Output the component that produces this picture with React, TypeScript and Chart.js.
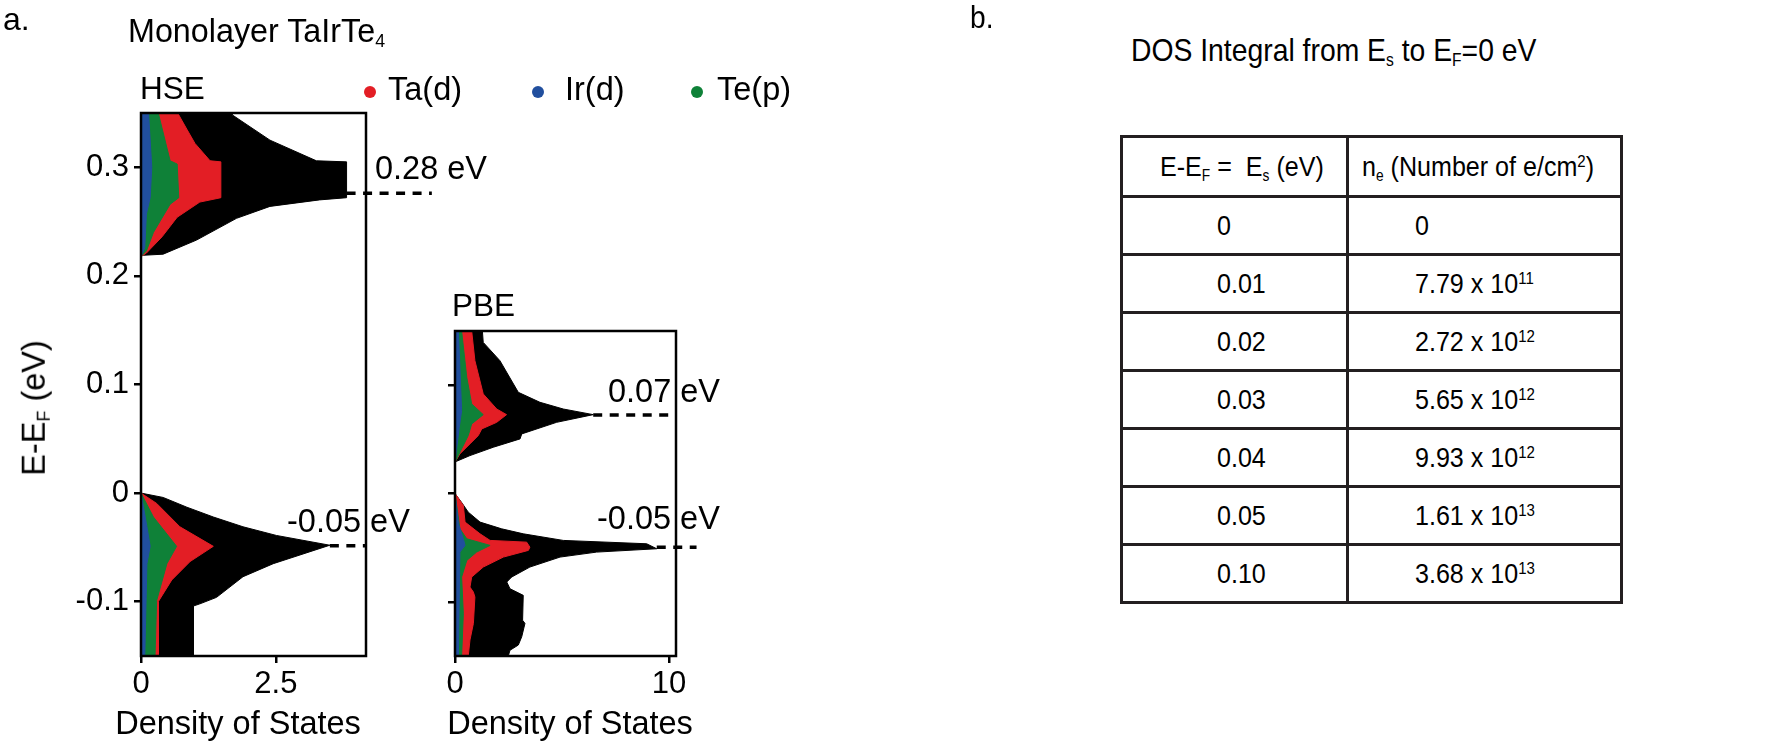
import React, { useEffect, useRef } from 'react';
import { Chart, registerables } from 'chart.js';

Chart.register(...registerables);

// ---------- DATA: [energy (eV), density of states] ----------
// HSE, conduction band
const hseCondTotal: [number, number][] = [[0.218, 0], [0.219, 0.04], [0.220, 0.41], [0.233, 1.03], [0.253, 1.77], [0.264, 2.39], [0.270, 3.31], [0.272, 3.81], [0.305, 3.81], [0.306, 3.25], [0.325, 2.39], [0.348, 1.70], [0.35, 1.68]];
const hseCondTa: [number, number][] = [[0.218, 0], [0.221, 0.10], [0.236, 0.39], [0.254, 0.67], [0.268, 1.09], [0.272, 1.48], [0.305, 1.48], [0.306, 1.28], [0.322, 1.00], [0.335, 0.85], [0.35, 0.68]];
const hseCondTe: [number, number][] = [[0.218, 0], [0.223, 0.10], [0.240, 0.23], [0.266, 0.54], [0.272, 0.70], [0.303, 0.67], [0.306, 0.54], [0.35, 0.32]];
const hseCondIr: [number, number][] = [[0.218, 0], [0.226, 0.07], [0.257, 0.10], [0.272, 0.17], [0.300, 0.20], [0.35, 0.14]];
// HSE, valence band
const hseValTotal: [number, number][] = [[0, 0], [-0.004, 0.41], [-0.013, 0.85], [-0.022, 1.34], [-0.031, 1.89], [-0.039, 2.51], [-0.048, 3.50], [-0.065, 2.45], [-0.077, 1.89], [-0.096, 1.40], [-0.102, 1.09], [-0.104, 0.97], [-0.15, 0.97]];
const hseValTa: [number, number][] = [[0, 0], [-0.0095, 0.29], [-0.031, 0.72], [-0.049, 1.34], [-0.063, 0.91], [-0.080, 0.57], [-0.100, 0.32], [-0.15, 0.32]];
const hseValTe: [number, number][] = [[0, 0], [-0.022, 0.23], [-0.049, 0.66], [-0.065, 0.48], [-0.099, 0.29], [-0.15, 0.26]];
const hseValIr: [number, number][] = [[0, 0], [-0.031, 0.11], [-0.049, 0.17], [-0.065, 0.11], [-0.15, 0.07]];
// PBE, conduction band
const pbeCondTotal: [number, number][] = [[0.029, 0], [0.0298, 0.08], [0.035, 0.70], [0.0427, 1.79], [0.0504, 3.04], [0.055, 3.12], [0.0657, 4.75], [0.0728, 6.46], [0.078, 5.06], [0.0842, 3.97], [0.0934, 2.96], [0.1226, 2.10], [0.1395, 1.32], [0.15, 1.28]];
const pbeCondTa: [number, number][] = [[0.029, 0], [0.0366, 0.23], [0.0458, 0.70], [0.0535, 1.09], [0.0596, 1.25], [0.0657, 1.95], [0.0728, 2.41], [0.078, 1.95], [0.0919, 1.32], [0.1226, 0.93], [0.15, 0.78]];
const pbeCondTe: [number, number][] = [[0.029, 0], [0.0412, 0.31], [0.0535, 0.62], [0.0642, 0.78], [0.0728, 1.32], [0.0827, 0.78], [0.1072, 0.55], [0.15, 0.31]];
const pbeCondIr: [number, number][] = [[0.029, 0], [0.0611, 0.20], [0.0765, 0.31], [0.15, 0.16]];
// PBE, valence band
const pbeValTotal: [number, number][] = [[0, 0], [-0.008, 0.30], [-0.0172, 0.62], [-0.0264, 1.17], [-0.0326, 2.18], [-0.0372, 3.19], [-0.0433, 5.06], [-0.0464, 8.96], [-0.051, 9.43], [-0.0541, 6.62], [-0.0587, 4.91], [-0.0679, 3.50], [-0.0771, 2.65], [-0.0817, 2.42], [-0.0879, 2.57], [-0.094, 3.19], [-0.117, 3.16], [-0.1199, 3.27], [-0.1322, 3.12], [-0.1399, 2.96], [-0.1447, 2.57], [-0.15, 2.49]];
const pbeValTa: [number, number][] = [[0, 0], [-0.011, 0.39], [-0.0264, 0.47], [-0.0372, 1.17], [-0.0433, 1.64], [-0.0449, 3.35], [-0.0495, 3.50], [-0.0525, 3.43], [-0.0587, 2.26], [-0.0679, 1.32], [-0.0771, 0.78], [-0.0864, 0.70], [-0.091, 0.86], [-0.0956, 0.93], [-0.1199, 0.86], [-0.1352, 0.70], [-0.15, 0.62]];
const pbeValTe: [number, number][] = [[0, 0], [-0.0326, 0.23], [-0.0418, 0.55], [-0.0479, 1.64], [-0.0541, 1.01], [-0.0618, 0.55], [-0.0771, 0.31], [-0.1109, 0.39], [-0.15, 0.31]];
const pbeValIr: [number, number][] = [[0, 0], [-0.028, 0.16], [-0.0418, 0.39], [-0.0479, 0.47], [-0.0541, 0.23], [-0.15, 0.16]];

// Peak markers: energy, DOS at peak, DOS where the dashed line ends
const hseMarkerE = [0.276, -0.0485];
const hseMarkerFrom = [3.81, 3.5];
const hseMarkerTo = [5.39, 4.17];
const pbeMarkerE = [0.0725, -0.0495];
const pbeMarkerFrom = [6.46, 9.43];
const pbeMarkerTo = [10.3, 11.29];
const hseMarkerLabels = ['0.28 eV', '-0.05 eV'];
const pbeMarkerLabels = ['0.07 eV', '-0.05 eV'];

// Axes
const hseXTicks = [0, 2.5];
const pbeXTicks = [0, 10];
const hseYTicks = [-0.1, 0, 0.1, 0.2, 0.3];
const pbeYTicks = [-0.1, 0, 0.1];

// Table
const tableEs = ['0', '0.01', '0.02', '0.03', '0.04', '0.05', '0.10'];
const tableMant = ['0', '7.79', '2.72', '5.65', '9.93', '1.61', '3.68'];
const tableExp = ['', '11', '12', '12', '12', '13', '13'];

// ---------- STYLE ----------
const RED = '#E31E25';
const GREEN = '#0F8138';
const BLUE = '#214F9E';
const BLACK = '#000000';
const SANS = "'Liberation Sans', Arial, Helvetica, sans-serif";
const NARROW_X = 0.88;

Chart.defaults.font.family = SANS;

function series(points: [number, number][], color: string, order: number) {
  return {
    data: points.map(([e, d]) => ({ x: d, y: e })),
    borderColor: color,
    backgroundColor: color,
    borderWidth: 1,
    fill: 'origin',
    pointRadius: 0,
    tension: 0,
    order,
  };
}

const frameMarkers = {
  id: 'frameMarkers',
  afterDatasetsDraw(chart: any, _args: any, opts: any) {
    const { ctx, chartArea: a, scales } = chart;
    ctx.save();
    ctx.strokeStyle = '#000';
    ctx.lineWidth = 2.5;
    ctx.strokeRect(a.left, a.top, a.right - a.left, a.bottom - a.top);
    ctx.setLineDash([9, 7.5]);
    ctx.lineWidth = 3.5;
    const es: number[] = opts.e || [];
    es.forEach((e, i) => {
      const y = scales.y.getPixelForValue(e);
      ctx.beginPath();
      ctx.moveTo(scales.x.getPixelForValue(opts.from[i]), y);
      ctx.lineTo(scales.x.getPixelForValue(opts.to[i]), y);
      ctx.stroke();
    });
    ctx.restore();
  },
};

function makeConfig(p: {
  sets: any[]; xMax: number; yMin: number; yMax: number; xTicks: number[]; yTicks: number[];
  yLabels: boolean; padLeft: number; axisWidth: number; padTop: number; padRight: number;
  markers: { e: number[]; from: number[]; to: number[] };
}) {
  const grid = { display: true, drawOnChartArea: false, drawTicks: true, tickLength: 7, color: '#000', lineWidth: 2.5 };
  return {
    type: 'line',
    data: { datasets: p.sets },
    plugins: [frameMarkers],
    options: {
      animation: false,
      responsive: false,
      maintainAspectRatio: false,
      indexAxis: 'y',
      layout: { padding: { left: p.padLeft, right: p.padRight, top: p.padTop, bottom: 43 } },
      plugins: {
        legend: { display: false },
        tooltip: { enabled: false },
        frameMarkers: p.markers,
      },
      scales: {
        x: {
          type: 'linear', min: 0, max: p.xMax,
          afterBuildTicks: (s: any) => { s.ticks = p.xTicks.map((v) => ({ value: v })); },
          afterFit: (s: any) => { s.height = 50; },
          ticks: { color: '#000', font: { size: 31 }, padding: 3, maxRotation: 0, autoSkip: false, callback: (v: any) => String(v) },
          grid, border: { display: false },
        },
        y: {
          type: 'linear', min: p.yMin, max: p.yMax,
          afterBuildTicks: (s: any) => { s.ticks = p.yTicks.map((v) => ({ value: v })); },
          afterFit: (s: any) => { s.width = p.axisWidth; },
          ticks: { display: p.yLabels, color: '#000', font: { size: 31 }, padding: 5, autoSkip: false, callback: (v: any) => String(v) },
          grid, border: { display: false },
        },
      },
    },
  };
}

function DosCanvas({ config }: { config: any }) {
  const ref = useRef<HTMLCanvasElement | null>(null);
  useEffect(() => {
    if (!ref.current) return;
    const c = new Chart(ref.current, config);
    return () => c.destroy();
  }, [config]);
  return <canvas ref={ref} width={1000} height={749} style={{ position: 'absolute', left: 0, top: 0, width: 1000, height: 749 }} />;
}

const hseConfig = makeConfig({
  sets: [
    series(hseCondIr, BLUE, 1), series(hseValIr, BLUE, 1),
    series(hseCondTe, GREEN, 2), series(hseValTe, GREEN, 2),
    series(hseCondTa, RED, 3), series(hseValTa, RED, 3),
    series(hseCondTotal, BLACK, 4), series(hseValTotal, BLACK, 4),
  ],
  xMax: 4.17, yMin: -0.15, yMax: 0.35, xTicks: hseXTicks, yTicks: hseYTicks, yLabels: true,
  padLeft: 0, axisWidth: 141, padTop: 113, padRight: 1000 - 366,
  markers: { e: hseMarkerE, from: hseMarkerFrom, to: hseMarkerTo },
});

const pbeConfig = makeConfig({
  sets: [
    series(pbeCondIr, BLUE, 1), series(pbeValIr, BLUE, 1),
    series(pbeCondTe, GREEN, 2), series(pbeValTe, GREEN, 2),
    series(pbeCondTa, RED, 3), series(pbeValTa, RED, 3),
    series(pbeCondTotal, BLACK, 4), series(pbeValTotal, BLACK, 4),
  ],
  xMax: 10.33, yMin: -0.15, yMax: 0.15, xTicks: pbeXTicks, yTicks: pbeYTicks, yLabels: false,
  padLeft: 400, axisWidth: 55, padTop: 331, padRight: 1000 - 676,
  markers: { e: pbeMarkerE, from: pbeMarkerFrom, to: pbeMarkerTo },
});

// text helper: positioned by baseline
function T({ x, base, size = 32.5, children, center = false, sx = 1 }: any) {
  const tf = center ? 'translateX(-50%)' : sx !== 1 ? `scaleX(${sx})` : undefined;
  return (
    <div style={{
      position: 'absolute', left: x, top: base - 0.8465 * size, fontSize: size, lineHeight: `${size}px`,
      fontFamily: SANS, color: '#000', whiteSpace: 'pre', transform: tf, transformOrigin: 'left top',
    }}>{children}</div>
  );
}

const sub = (t: string) => <span style={{ fontSize: '0.55em', verticalAlign: '-0.3em', lineHeight: 0 }}>{t}</span>;
const sup = (t: string) => <span style={{ fontSize: '0.6em', verticalAlign: '0.55em', lineHeight: 0 }}>{t}</span>;
const narrow = (c: any) => (
  <span style={{ display: 'inline-block', transform: `scaleX(${NARROW_X})`, transformOrigin: 'left center', whiteSpace: 'pre' }}>{c}</span>
);

function Dot({ x, y, color }: any) {
  return <div style={{ position: 'absolute', left: x - 6, top: y - 6, width: 12, height: 12, borderRadius: 6, background: color }} />;
}

const cellBorder = '3.5px solid #231F20';

export default function App() {
  return (
    <div style={{ position: 'relative', width: 1773, height: 749, background: '#fff', overflow: 'hidden' }}>
      <style>{'body{margin:0;background:#fff;}'}</style>
      <DosCanvas config={hseConfig} />
      <DosCanvas config={pbeConfig} />

      <T x={3} base={30} size={32}>a.</T>
      <T x={128} base={42} size={32.3}>Monolayer TaIrTe{sub('4')}</T>
      <T x={140} base={100} size={31.5}>HSE</T>
      <T x={452} base={317} size={31.5}>PBE</T>

      <Dot x={370} y={92} color={RED} />
      <T x={388} base={101}>Ta(d)</T>
      <Dot x={538} y={92} color={BLUE} />
      <T x={565} base={101}>Ir(d)</T>
      <Dot x={697} y={92} color={GREEN} />
      <T x={717} base={101}>Te(p)</T>

      <div style={{
        position: 'absolute', left: 34, top: 408, transform: 'translate(-50%, -50%) rotate(-90deg)',
        fontFamily: SANS, fontSize: 32.5, lineHeight: '32.5px', whiteSpace: 'pre', color: '#000',
      }}>E-E{sub('F')} (eV)</div>

      <T x={375} base={180}>{hseMarkerLabels[0]}</T>
      <T x={287} base={533}>{hseMarkerLabels[1]}</T>
      <T x={608} base={403}>{pbeMarkerLabels[0]}</T>
      <T x={597} base={530}>{pbeMarkerLabels[1]}</T>

      <T x={238} base={735} center>Density of States</T>
      <T x={570} base={735} center>Density of States</T>

      <T x={970} base={28} size={32} sx={NARROW_X}>b.</T>
      <T x={1131} base={61} size={32.2} sx={NARROW_X}>DOS Integral from E{sub('s')} to E{sub('F')}=0 eV</T>

      <table style={{
        position: 'absolute', left: 1120, top: 135, borderCollapse: 'collapse', tableLayout: 'fixed',
        fontFamily: SANS, fontSize: 28.5, color: '#000', width: 500,
      }}>
        <colgroup><col style={{ width: 226 }} /><col style={{ width: 274 }} /></colgroup>
        <tbody>
          <tr style={{ height: 60 }}>
            <td style={{ border: cellBorder, whiteSpace: 'pre', padding: '0 0 0 37px', overflow: 'visible' }}>
              {narrow(<>E-E{sub('F')} =  E{sub('s')} (eV)</>)}
            </td>
            <td style={{ border: cellBorder, whiteSpace: 'pre', padding: '0 0 0 13px', overflow: 'visible' }}>
              {narrow(<>n{sub('e')} (Number of e/cm{sup('2')})</>)}
            </td>
          </tr>
          {tableEs.map((e, i) => (
            <tr key={i} style={{ height: 58 }}>
              <td style={{ border: cellBorder, padding: '0 0 0 94px', whiteSpace: 'pre' }}>{narrow(e)}</td>
              <td style={{ border: cellBorder, padding: '0 0 0 66px', whiteSpace: 'pre' }}>
                {narrow(tableExp[i] ? <>{tableMant[i]} x 10{sup(tableExp[i])}</> : tableMant[i])}
              </td>
            </tr>
          ))}
        </tbody>
      </table>
    </div>
  );
}
